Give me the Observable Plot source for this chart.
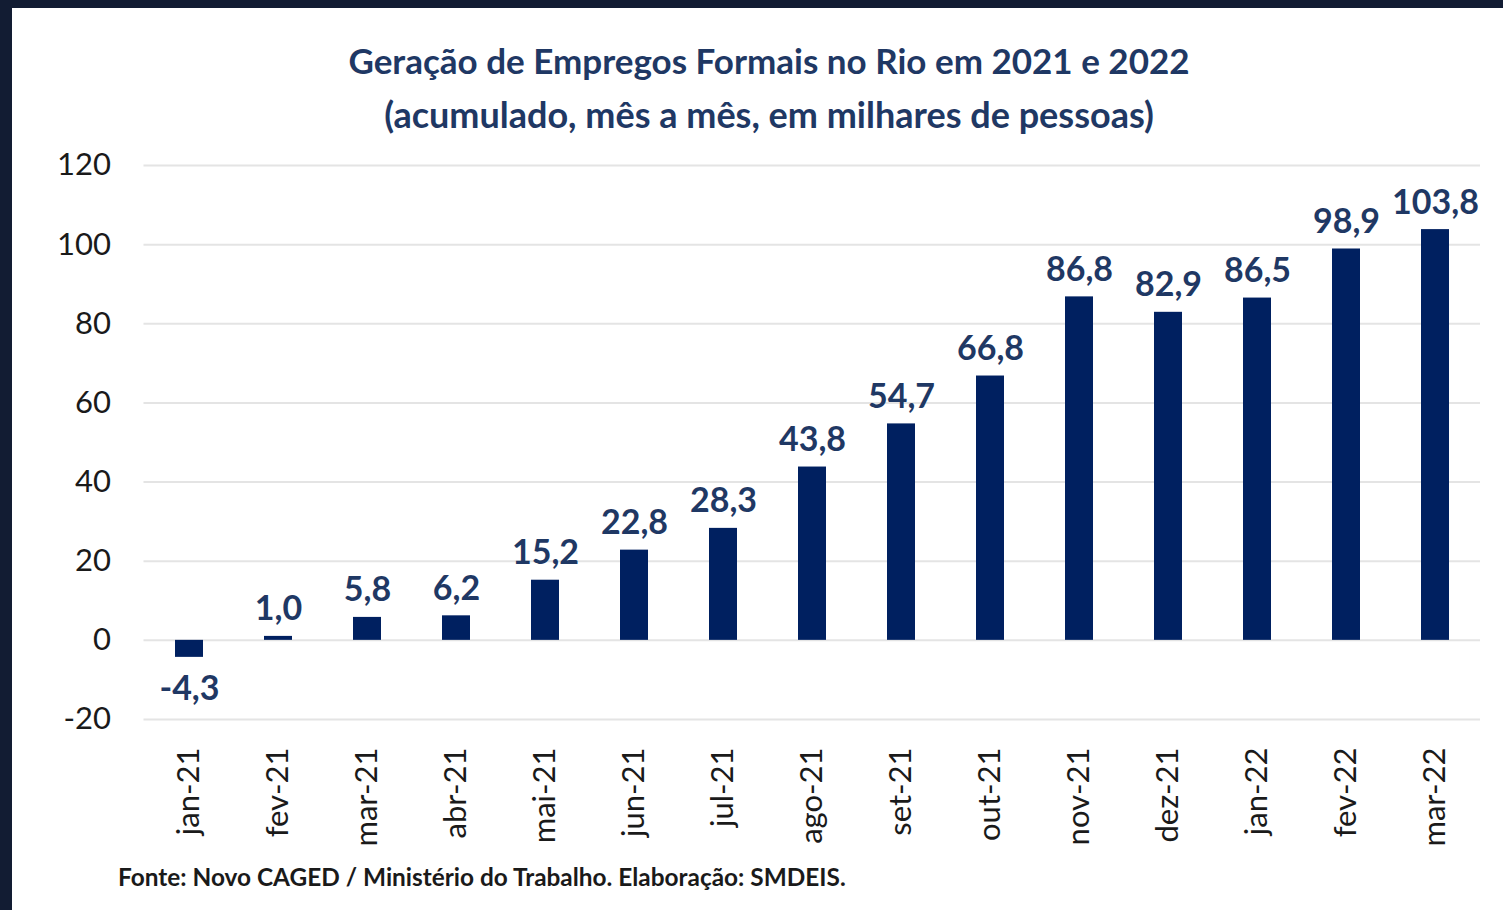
<!DOCTYPE html>
<html>
<head>
<meta charset="utf-8">
<script src="https://cdn.jsdelivr.net/npm/d3@7"></script>
<script src="https://cdn.jsdelivr.net/npm/@observablehq/plot@0.6"></script>
<style>
  html, body { margin: 0; padding: 0; }
  body { width: 1503px; height: 910px; background: #121c33; position: relative; overflow: hidden; font-family: Lato, "Open Sans", sans-serif; }
  #panel { position: absolute; left: 12px; top: 8px; width: 1491px; height: 902px; background: #fff; }
  .title { position: absolute; left: 0; width: 1538px; text-align: center; font-weight: bold; color: #1f3864; font-size: 35px; line-height: 42px; white-space: nowrap; }
  #t1 { top: 39px; }
  #t2 { top: 93px; font-size: 36px; }
  #chart { position: absolute; left: 12px; top: 140px; }
  #caption { position: absolute; left: 118px; top: 862px; font-size: 24.4px; line-height: 29px; font-weight: bold; color: #1a1a1a; white-space: nowrap; }
</style>
</head>
<body>
<div id="panel"></div>
<div class="title" id="t1">Geração de Empregos Formais no Rio em 2021 e 2022</div>
<div class="title" id="t2">(acumulado, mês a mês, em milhares de pessoas)</div>
<div id="chart"></div>
<div id="caption">Fonte: Novo CAGED / Ministério do Trabalho. Elaboração: SMDEIS.</div>
<script>
const months = ["jan-21","fev-21","mar-21","abr-21","mai-21","jun-21","jul-21","ago-21","set-21","out-21","nov-21","dez-21","jan-22","fev-22","mar-22"];
const values = [-4.3, 1.0, 5.8, 6.2, 15.2, 22.8, 28.3, 43.8, 54.7, 66.8, 86.8, 82.9, 86.5, 98.9, 103.8];
const yTicks = [-20, 0, 20, 40, 60, 80, 100, 120];

const data = months.map((m, i) => ({month: m, value: values[i]}));
const fmt = v => v.toFixed(1).replace(".", ",");

const plot = Plot.plot({
  width: 1491,
  height: 720,
  marginLeft: 131.5,
  marginRight: 23,
  marginTop: 25,
  marginBottom: 141,
  style: {background: "transparent", fontFamily: "Lato, 'Open Sans', sans-serif"},
  x: {domain: months, paddingInner: 0.685, paddingOuter: 0.3425, axis: null},
  y: {domain: [-20, 120], axis: null},
  marks: [
    Plot.gridY(yTicks, {stroke: "#e4e4e4", strokeOpacity: 1, strokeWidth: 2}),
    Plot.axisY(yTicks, {tickSize: 0, tickPadding: 33, fontSize: 31, fill: "#1a1a1a", label: null, tickFormat: d => String(d)}),
    Plot.barY(data, {x: "month", y: "value", fill: "#002060"}),
    Plot.text(data.filter(d => d.value >= 0), {x: "month", y: "value", text: d => fmt(d.value), lineAnchor: "bottom", dy: -16, fontSize: 34, fontWeight: "bold", fill: "#1f3864"}),
    Plot.text(data.filter(d => d.value < 0), {x: "month", y: "value", text: d => fmt(d.value), lineAnchor: "top", dy: 18, fontSize: 34, fontWeight: "bold", fill: "#1f3864"}),
    Plot.text(months, {x: d => d, text: d => d, frameAnchor: "bottom", rotate: -90, textAnchor: "end", lineAnchor: "middle", dy: 28, fontSize: 31, fill: "#1a1a1a"})
  ]
});
document.getElementById("chart").appendChild(plot);
</script>
</body>
</html>
